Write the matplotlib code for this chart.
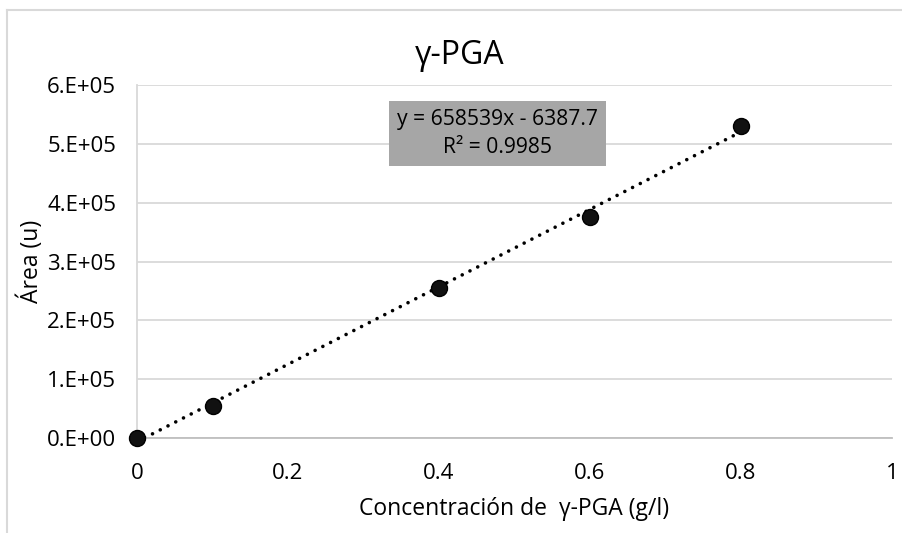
import numpy as np
import matplotlib.pyplot as plt
from matplotlib.lines import Line2D
from matplotlib.ticker import FuncFormatter, MultipleLocator

# Curva de calibración del γ-PGA
concentracion = [0.0, 0.1, 0.4, 0.6, 0.8]          # g/l
area = [0.0, 0.55e5, 2.55e5, 3.76e5, 5.31e5]       # u

# Línea de tendencia (ajuste lineal de Excel)
pendiente = 658539.0
ordenada = -6387.7
r2 = 0.9985

plt.rcParams['font.family'] = ['Open Sans', 'DejaVu Sans']

fig = plt.figure(figsize=(9.02, 5.33), dpi=100)
ax = fig.add_axes([0.1519, 0.1782, 0.8370, 0.6623])

gris = '#d9d9d9'

# tendencia punteada
xt = np.array([0.0, max(concentracion)])
ax.plot(xt, pendiente * xt + ordenada, color='black', lw=2.6,
        linestyle=(0, (0.01, 2.4)), dash_capstyle='round', zorder=2)

# datos experimentales
ax.plot(concentracion, area, 'o', color='#111111', markersize=11.5,
        markeredgecolor='black', clip_on=False, zorder=3)

ax.set_xlim(0, 1)
ax.set_ylim(0, 6e5)
ax.xaxis.set_major_locator(MultipleLocator(0.2))
ax.yaxis.set_major_locator(MultipleLocator(1e5))


def fmt_y(v, pos):
    if v == 0:
        return '0.E+00'
    e = int(np.floor(np.log10(abs(v))))
    m = int(round(v / 10 ** e))
    return f'{m}.E+{e:02d}'


ax.yaxis.set_major_formatter(FuncFormatter(fmt_y))
ax.xaxis.set_major_formatter(FuncFormatter(lambda v, p: f'{v:g}'))

ax.grid(axis='y', color=gris, lw=1.3)
ax.set_axisbelow(True)
for s in ['top', 'right']:
    ax.spines[s].set_visible(False)
ax.spines['left'].set_color(gris)
ax.spines['left'].set_linewidth(1.3)
ax.spines['bottom'].set_color('#bfbfbf')
ax.spines['bottom'].set_linewidth(1.3)
ax.tick_params(length=0, labelsize=16, colors='black')
ax.tick_params(axis='x', pad=18)
ax.tick_params(axis='y', pad=15)

fig.text(460 / 902, 1 - 55 / 533, 'γ-PGA', fontsize=23, ha='center', va='center')
ax.set_xlabel('Concentración de  γ-PGA (g/l)', fontsize=16.5, labelpad=9)
ax.set_ylabel('Área (u)', fontsize=16.5, labelpad=2)

# ecuación de la tendencia
ax.text(0.477, 5.18e5, f'y = {pendiente:.0f}x - {abs(ordenada):.1f}\nR² = {r2:.4f}',
        ha='center', va='center', fontsize=15.2, linespacing=1.45,
        bbox=dict(boxstyle='square,pad=0.38', facecolor='#a6a6a6',
                  edgecolor='none'))

# borde del área del gráfico
fig.add_artist(Line2D([7 / 902, 1.0], [1 - 10 / 533, 1 - 10 / 533],
                      color=gris, lw=1.5, transform=fig.transFigure))
fig.add_artist(Line2D([7 / 902, 7 / 902], [1 - 10 / 533, 0.0],
                      color=gris, lw=1.5, transform=fig.transFigure))

plt.savefig('out.png', dpi=100)
